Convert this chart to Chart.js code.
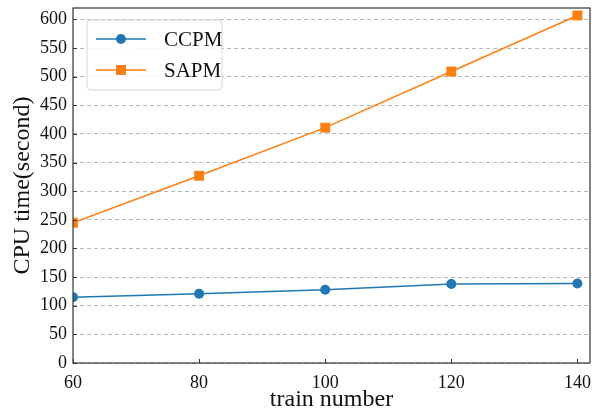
<!DOCTYPE html>
<html>
<head>
<meta charset="utf-8">
<script src="https://cdn.jsdelivr.net/npm/chart.js@4"></script>
<style>
  html, body { margin: 0; padding: 0; background: #fff; }
  #wrap { width: 592px; height: 414px; }
</style>
</head>
<body>
<div id="wrap"><canvas id="lineChart" width="592" height="414"></canvas></div>
<script>
// data
var trainNumbers = [60, 80, 100, 120, 140];
var ccpmTimes = [115, 121, 128, 138, 139];
var sapmTimes = [245, 327, 411, 509, 607];
var xTicks = [60, 80, 100, 120, 140];
var yTicks = [0, 50, 100, 150, 200, 250, 300, 350, 400, 450, 500, 550, 600];

var FONT = "'Liberation Serif', 'DejaVu Serif', serif";

function pts(ys) {
    return trainNumbers.map(function (x, i) { return { x: x, y: ys[i] }; });
}

// frame, inward ticks and legend box like matplotlib
var framePlugin = {
    id: 'frame',
    afterDraw: function (chart) {
        var ctx = chart.ctx, a = chart.chartArea;
        var xs = chart.scales.x, ys = chart.scales.y;
        ctx.save();
        ctx.strokeStyle = '#333';
        ctx.lineWidth = 1.2;
        ctx.strokeRect(a.left, a.top, a.right - a.left, a.bottom - a.top);
        ctx.lineWidth = 1;
        ctx.beginPath();
        xTicks.forEach(function (v) {
            var px = Math.round(xs.getPixelForValue(v)) + 0.5;
            ctx.moveTo(px, a.bottom);
            ctx.lineTo(px, a.bottom - 4);
        });
        yTicks.forEach(function (v) {
            var py = Math.round(ys.getPixelForValue(v)) + 0.5;
            ctx.moveTo(a.left, py);
            ctx.lineTo(a.left + 4, py);
        });
        ctx.stroke();

        // legend
        var bx = 87, by = 20, bw = 135, bh = 70, r = 4;
        ctx.fillStyle = 'rgba(255,255,255,0.85)';
        ctx.strokeStyle = '#d6d6d6';
        ctx.lineWidth = 1;
        ctx.beginPath();
        ctx.moveTo(bx + r, by);
        ctx.arcTo(bx + bw, by, bx + bw, by + bh, r);
        ctx.arcTo(bx + bw, by + bh, bx, by + bh, r);
        ctx.arcTo(bx, by + bh, bx, by, r);
        ctx.arcTo(bx, by, bx + bw, by, r);
        ctx.closePath();
        ctx.fill();
        ctx.stroke();

        chart.data.datasets.forEach(function (ds, i) {
            var ly = 39 + i * 31;
            ctx.strokeStyle = ds.borderColor;
            ctx.lineWidth = 1.5;
            ctx.beginPath();
            ctx.moveTo(96, ly);
            ctx.lineTo(146, ly);
            ctx.stroke();
            ctx.fillStyle = ds.backgroundColor;
            if (ds.pointStyle === 'rect') {
                ctx.fillRect(116, ly - 5, 10, 10);
            } else {
                ctx.beginPath();
                ctx.arc(121, ly, 5, 0, Math.PI * 2);
                ctx.fill();
            }
            ctx.fillStyle = '#111';
            ctx.font = "21px " + FONT;
            ctx.textBaseline = 'middle';
            ctx.fillText(ds.label, 164, ly + 1);
        });
        ctx.restore();
    }
};

var ctxL = document.getElementById("lineChart").getContext('2d');
var myLineChart = new Chart(ctxL, {
    type: 'line',
    data: {
        datasets: [
            {
                label: "CCPM",
                data: pts(ccpmTimes),
                borderColor: "#1f77b4",
                backgroundColor: "#1f77b4",
                borderWidth: 1.5,
                pointStyle: 'circle',
                pointRadius: 5,
                pointBorderWidth: 0
            },
            {
                label: "SAPM",
                data: pts(sapmTimes),
                borderColor: "#ff7f0e",
                backgroundColor: "#ff7f0e",
                borderWidth: 1.5,
                pointStyle: 'rect',
                pointRadius: 7,
                pointBorderWidth: 0
            }
        ]
    },
    options: {
        responsive: false,
        animation: false,
        layout: { autoPadding: false, padding: { top: 8, right: 2, left: 0, bottom: 0 } },
        plugins: {
            legend: { display: false },
            tooltip: { enabled: false }
        },
        scales: {
            x: {
                type: 'linear',
                min: 60,
                max: 142,
                afterBuildTicks: function (s) { s.ticks = xTicks.map(function (v) { return { value: v }; }); },
                afterFit: function (s) { s.height = 51; s.paddingLeft = 0; s.paddingRight = 0; },
                grid: { display: false },
                border: { display: false },
                ticks: { color: '#111', font: { family: FONT, size: 18 }, padding: 1, maxRotation: 0 },
                title: {
                    display: true, text: 'train number', color: '#111',
                    font: { family: FONT, size: 24 }, padding: { top: 0, bottom: 0 }
                }
            },
            y: {
                min: 0,
                max: 620,
                afterBuildTicks: function (s) { s.ticks = yTicks.map(function (v) { return { value: v }; }); },
                afterFit: function (s) { s.width = 73; s.paddingTop = 0; s.paddingBottom = 0; },
                grid: { color: '#b8b8b8', lineWidth: 1, drawTicks: false },
                border: { display: false, dash: [4, 3] },
                ticks: { color: '#111', font: { family: FONT, size: 18 }, padding: 6 },
                title: {
                    display: true, text: 'CPU time(second)', color: '#111',
                    font: { family: FONT, size: 24 }, padding: { top: 8, bottom: 0 }
                }
            }
        }
    },
    plugins: [framePlugin]
});
</script>
</body>
</html>
